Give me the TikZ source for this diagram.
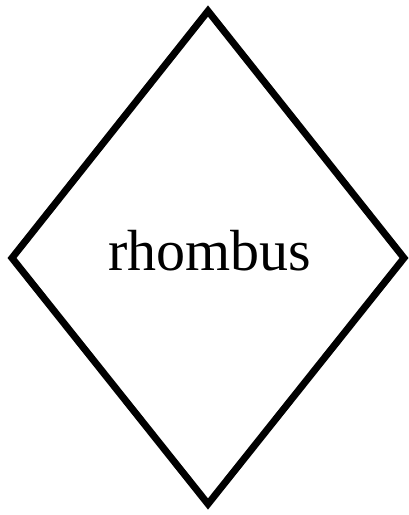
\documentclass[tikz,border=0pt]{standalone}
\usepackage{fontspec}
\setmainfont{Liberation Serif}
\begin{document}
\begin{tikzpicture}[x=1pt,y=1pt,
  rhomb/.style={draw=black,line width=7pt,line join=miter}]
\useasboundingbox (0,0) rectangle (408,-515);
\coordinate (t) at (208,-11);
\coordinate (r) at (404,-258);
\coordinate (b) at (208,-504);
\coordinate (l) at (12,-258);
\draw[rhomb] (t) -- (r) -- (b) -- (l) -- cycle;
\node[anchor=base,font=\fontsize{58}{60}\selectfont,inner sep=0] (lbl) at (210,-270) {rhombus};
\end{tikzpicture}
\end{document}
